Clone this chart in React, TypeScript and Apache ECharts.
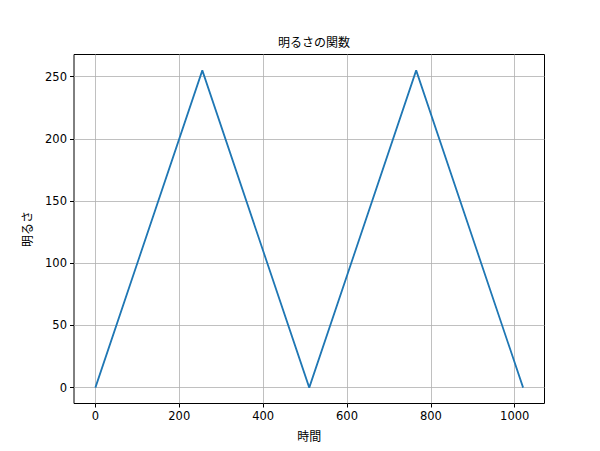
import { useEffect, useRef } from 'react'
import * as echarts from 'echarts'

// 時間 と 明るさ（三角波）
const times = [0, 255, 510, 765, 1020]
const brightness = [0, 255, 0, 255, 0]
const xTicks = [0, 200, 400, 600, 800, 1000]
const yTicks = [0, 50, 100, 150, 200, 250]

const FONT = '"DejaVu Sans", "Noto Sans CJK JP", sans-serif'

export default function App() {
  const elRef = useRef<HTMLDivElement>(null)

  useEffect(() => {
    if (!elRef.current) return
    const chart = echarts.init(elRef.current, undefined, { renderer: 'svg' })

    chart.setOption({
      animation: false,
      backgroundColor: '#ffffff',
      textStyle: { fontFamily: FONT },
      title: {
        text: '明るさの関数',
        left: 309,
        textAlign: 'center',
        top: 32,
        textStyle: { fontSize: 12, fontWeight: 'normal', color: '#000', fontFamily: FONT },
      },
      grid: {
        left: 74,
        top: 54.5,
        width: 470.5,
        height: 349,
        show: true,
        borderColor: '#000',
        borderWidth: 1,
        backgroundColor: 'transparent',
      },
      xAxis: {
        type: 'value',
        min: -51,
        max: 1071,
        name: '時間',
        nameLocation: 'middle',
        nameGap: 27,
        nameTextStyle: { fontSize: 12, color: '#000', fontFamily: FONT },
        axisLine: { show: false, onZero: false },
        axisTick: { show: true, inside: false, length: 4, customValues: xTicks, lineStyle: { color: '#000' } },
        axisLabel: {
          customValues: xTicks,
          formatter: (v: number) => String(v),
          fontSize: 11.5,
          color: '#000',
          margin: 7,
          fontFamily: FONT,
        },
        splitLine: { show: true, lineStyle: { color: '#b0b0b0', width: 0.8 } },
      },
      yAxis: {
        type: 'value',
        min: -12.75,
        max: 267.75,
        name: '明るさ',
        nameLocation: 'middle',
        nameRotate: 90,
        nameGap: 34,
        nameTextStyle: { fontSize: 12, color: '#000', fontFamily: FONT },
        axisLine: { show: false, onZero: false },
        axisTick: { show: true, inside: false, length: 4, customValues: yTicks, lineStyle: { color: '#000' } },
        axisLabel: {
          customValues: yTicks,
          formatter: (v: number) => String(v),
          fontSize: 11.5,
          color: '#000',
          margin: 7,
          fontFamily: FONT,
        },
        splitLine: { show: true, lineStyle: { color: '#b0b0b0', width: 0.8 } },
      },
      series: [
        {
          type: 'line',
          data: times.map((t, i) => [t, brightness[i]]),
          showSymbol: false,
          lineStyle: { color: '#1f77b4', width: 1.8 },
          itemStyle: { color: '#1f77b4' },
        },
      ],
    })

    return () => chart.dispose()
  }, [])

  return (
    <div
      ref={elRef}
      style={{ position: 'fixed', left: 0, top: 0, width: 600, height: 451 }}
    />
  )
}
